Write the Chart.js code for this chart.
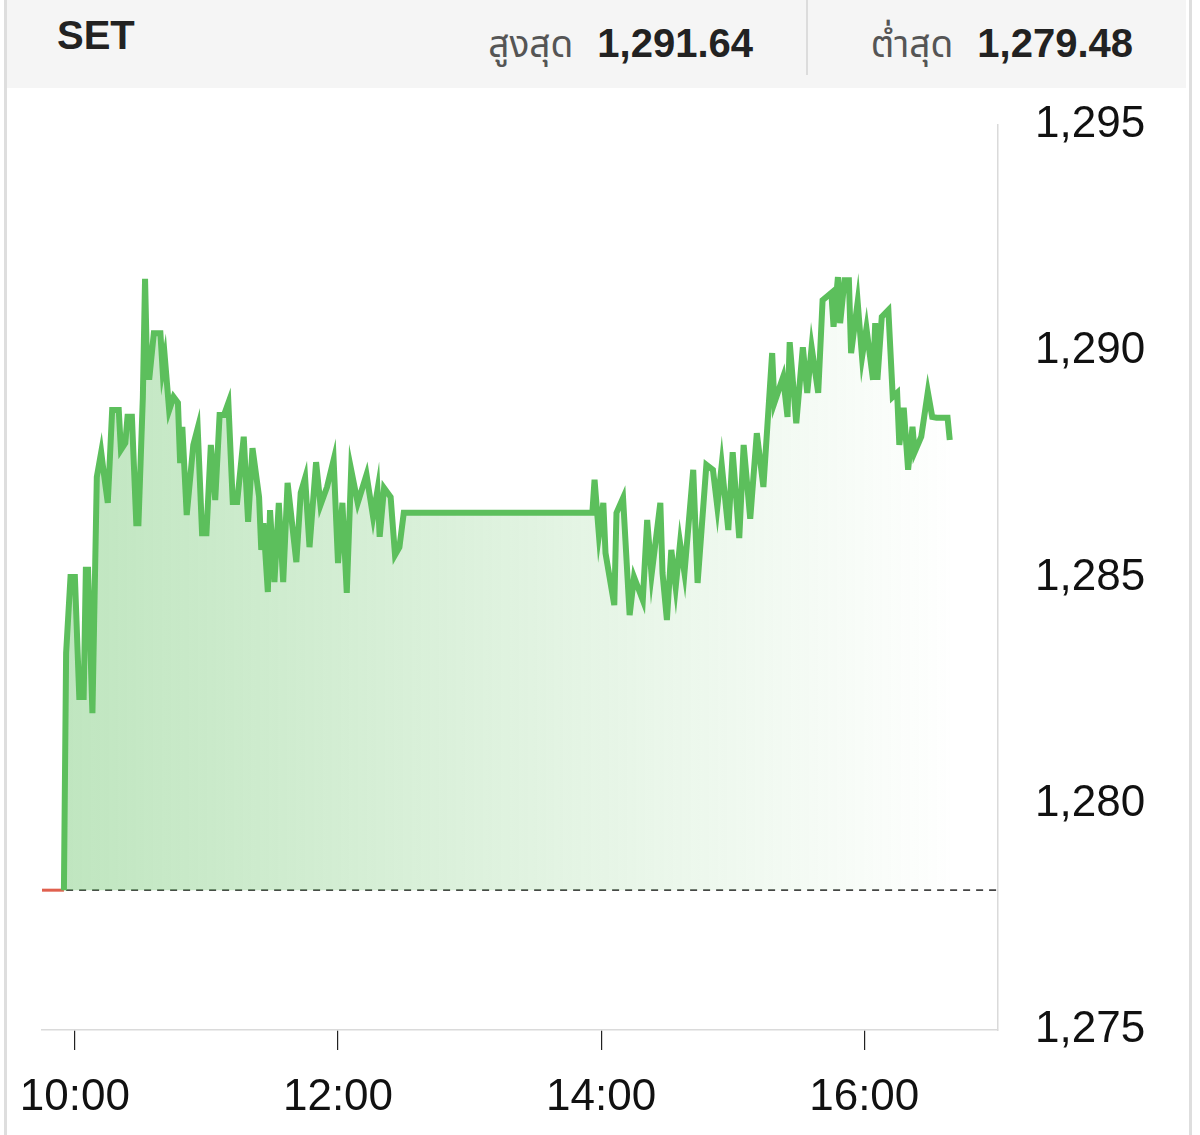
<!DOCTYPE html>
<html>
<head>
<meta charset="utf-8">
<script src="https://cdn.jsdelivr.net/npm/chart.js@4"></script>
<style>
    body { margin: 0; background: #fff; }
    #marco { position: relative; width: 1200px; height: 1135px; overflow: hidden; font-family: "Liberation Sans", Arial, "Noto Sans Thai", sans-serif; }
    #borde { position: absolute; left: 4px; top: 0; width: 1182px; height: 1135px; border-left: 3px solid #dedede; border-right: 3px solid #dedede; }
    #cabecera { position: absolute; left: 7px; top: 0; width: 1179px; height: 88px; background: #f5f5f5; }
    #divisor { position: absolute; left: 806px; top: 0; width: 2px; height: 75px; background: #dcdcdc; }
    .txt { position: absolute; white-space: nowrap; color: #222; }
    #simbolo { left: 57px; top: 13px; font-size: 40px; font-weight: bold; }
    .grupo { position: absolute; top: 18px; white-space: nowrap; }
    .etq { font-size: 37px; color: #555; margin-right: 24px; }
    .num { font-size: 40px; font-weight: bold; color: #222; }
    #canvasWrap { position: absolute; left: 0; top: 88px; width: 1200px; height: 1047px; }
</style>
</head>
<body>
<div id="marco">
    <div id="cabecera"></div>
    <div id="divisor"></div>
    <div class="txt" id="simbolo">SET</div>
    <div class="grupo" style="right: 447px;"><span class="etq">สูงสุด</span><span class="num">1,291.64</span></div>
    <div class="grupo" style="right: 67px;"><span class="etq">ต่ำสุด</span><span class="num">1,279.48</span></div>
    <div id="canvasWrap"><canvas id="chartSet" width="1200" height="1047"></canvas></div>
    <div id="borde"></div>
</div>

<script>
// precio de cierre anterior (linea punteada)
const cierreAnterior = 1278.09

// pre-apertura (linea roja)
const preTiempos = ["09:45", "09:55"]
const preValores = [1278.09, 1278.09]

// SET intradia
const tiempos = [
    "09:55", "09:56", "09:58", "10:00", "10:02", "10:04", "10:05", "10:06", "10:08", "10:10",
    "10:12", "10:13", "10:15", "10:17", "10:20", "10:21", "10:23", "10:24", "10:26", "10:28",
    "10:29", "10:31", "10:32", "10:33", "10:34", "10:36", "10:39", "10:40", "10:41", "10:43",
    "10:45", "10:47", "10:48", "10:49", "10:51", "10:54", "10:56", "10:58", "11:00", "11:02",
    "11:04", "11:06", "11:08", "11:10", "11:12", "11:14", "11:17", "11:19", "11:21", "11:24",
    "11:25", "11:26", "11:28", "11:29", "11:31", "11:33", "11:35", "11:37", "11:41", "11:43",
    "11:45", "11:47", "11:50", "11:52", "11:55", "11:58", "12:00", "12:02", "12:04", "12:06",
    "12:09", "12:13", "12:16", "12:18", "12:19", "12:21", "12:24", "12:26", "12:28", "12:30",
    "13:56", "13:57", "13:59", "14:01", "14:02", "14:06", "14:07", "14:10", "14:13", "14:15",
    "14:19", "14:21", "14:23", "14:27", "14:28", "14:30", "14:32", "14:34", "14:36", "14:38",
    "14:42", "14:44", "14:48", "14:51", "14:53", "14:55", "14:58", "15:00", "15:03", "15:05",
    "15:08", "15:11", "15:14", "15:18", "15:19", "15:23", "15:25", "15:26", "15:29", "15:32",
    "15:34", "15:36", "15:39", "15:41", "15:45", "15:46", "15:48", "15:49", "15:51", "15:53",
    "15:54", "15:57", "15:59", "16:01", "16:04", "16:05", "16:06", "16:08", "16:11", "16:13",
    "16:15", "16:16", "16:18", "16:20", "16:22", "16:23", "16:26", "16:29", "16:31", "16:33",
    "16:38", "16:39"
]
const valores = [
    1278.09, 1283.33, 1285.01, 1285.01, 1282.36, 1282.36, 1285.17, 1285.17, 1282.00, 1287.22,
    1287.77, 1287.38, 1286.65, 1288.70, 1288.70, 1287.82, 1287.97, 1288.55, 1288.55, 1286.20,
    1286.20, 1288.99, 1291.60, 1289.43, 1289.43, 1290.40, 1290.40, 1289.59, 1289.87, 1288.70,
    1288.99, 1288.86, 1287.53, 1288.33, 1286.38, 1287.93, 1288.30, 1285.98, 1285.98, 1287.93,
    1286.71, 1288.59, 1288.59, 1288.86, 1286.67, 1286.67, 1288.11, 1286.23, 1287.86, 1286.78,
    1285.61, 1286.20, 1284.68, 1286.49, 1284.90, 1286.65, 1284.90, 1287.09, 1285.34, 1286.87,
    1287.20, 1285.67, 1287.55, 1286.60, 1287.00, 1287.60, 1285.32, 1286.65, 1284.66, 1287.38,
    1286.65, 1287.27, 1286.34, 1286.93, 1285.90, 1286.98, 1286.78, 1285.50, 1285.67, 1286.43,
    1286.43, 1287.16, 1285.94, 1286.65, 1285.54, 1284.39, 1286.43, 1286.76, 1284.17, 1285.01,
    1284.50, 1286.27, 1285.06, 1286.65, 1285.10, 1284.06, 1285.61, 1284.79, 1285.76, 1285.10,
    1287.38, 1284.88, 1287.49, 1287.38, 1286.56, 1287.49, 1286.05, 1287.77, 1285.87, 1287.93,
    1286.30, 1288.19, 1287.00, 1289.96, 1288.86, 1289.43, 1288.55, 1290.20, 1288.41, 1290.09,
    1289.08, 1290.09, 1289.08, 1291.13, 1291.29, 1290.54, 1291.64, 1290.62, 1291.57, 1291.57,
    1289.96, 1291.09, 1289.87, 1290.51, 1289.37, 1290.62, 1289.37, 1290.76, 1290.91, 1288.99,
    1289.08, 1287.93, 1288.75, 1287.38, 1288.33, 1287.77, 1288.11, 1289.10, 1288.55, 1288.53,
    1288.53, 1288.04
]

// ejes
const ejeXInicio = "09:45"
const ejeXFin = "17:01"
const ticksX = ["10:00", "12:00", "14:00", "16:00"]
const ticksY = [1275, 1280, 1285, 1290, 1295]

function aMinutos(hhmm) {
    const partes = hhmm.split(":")
    return parseInt(partes[0]) * 60 + parseInt(partes[1])
}

function aHora(min) {
    const h = Math.floor(min / 60)
    const m = min % 60
    return h + ":" + (m < 10 ? "0" + m : m)
}

function puntos(ts, vs) {
    return ts.map((t, i) => { return { x: aMinutos(t), y: vs[i] } })
}

function relleno(context) {
    const chart = context.chart
    const area = chart.chartArea
    if (!area) return "rgba(92,190,92,0.3)"
    const g = chart.ctx.createLinearGradient(area.left, 0, area.right, 0)
    g.addColorStop(0, "rgba(92,190,92,0.4)")
    g.addColorStop(0.55, "rgba(92,190,92,0.17)")
    g.addColorStop(0.96, "rgba(92,190,92,0.0)")
    return g
}

function GraficaSet() {

    const data = {
        datasets: [
            {
                label: "SET",
                data: puntos(tiempos, valores),
                borderColor: "#5cbf5c",
                borderWidth: 6,
                borderJoinStyle: "miter",
                pointRadius: 0,
                tension: 0,
                fill: { value: cierreAnterior },
                backgroundColor: relleno,
                order: 1
            },
            {
                label: "pre",
                data: puntos(preTiempos, preValores),
                borderColor: "#e0604e",
                borderWidth: 3,
                pointRadius: 0,
                fill: false,
                order: 2
            },
            {
                label: "cierre",
                data: [{ x: aMinutos("09:56"), y: cierreAnterior }, { x: aMinutos(ejeXFin), y: cierreAnterior }],
                borderColor: "#444",
                borderWidth: 1.8,
                borderDash: [7, 6],
                pointRadius: 0,
                fill: false,
                order: 3
            }
        ]
    }

    const config = {
        type: "line",
        data: data,
        options: {
            responsive: false,
            animation: false,
            events: [],
            layout: { padding: { left: 42, top: 37, right: 0, bottom: 0 } },
            plugins: { legend: { display: false }, tooltip: { enabled: false } },
            scales: {
                x: {
                    type: "linear",
                    min: aMinutos(ejeXInicio),
                    max: aMinutos(ejeXFin),
                    afterBuildTicks: (axis) => { axis.ticks = ticksX.map((t) => { return { value: aMinutos(t) } }) },
                    afterFit: (axis) => {
                        axis.height = 105
                        axis.paddingLeft = 0
                        axis.paddingRight = 0
                    },
                    grid: { drawOnChartArea: false, drawTicks: true, tickLength: 20, color: "#222", lineWidth: 1.2 },
                    border: { display: true, color: "#dadada", width: 1.5 },
                    ticks: {
                        padding: 21,
                        maxRotation: 0,
                        autoSkip: false,
                        color: "#111",
                        font: { family: "'Liberation Sans', Arial, sans-serif", size: 44 },
                        callback: (v) => aHora(v)
                    }
                },
                y: {
                    position: "right",
                    min: ticksY[0],
                    max: ticksY[ticksY.length - 1],
                    afterBuildTicks: (axis) => { axis.ticks = ticksY.map((v) => { return { value: v } }) },
                    afterFit: (axis) => {
                        axis.width = 202
                        axis.paddingTop = 0
                        axis.paddingBottom = 0
                    },
                    grid: { display: false },
                    border: { display: true, color: "#dadada", width: 1.5 },
                    ticks: {
                        padding: 29,
                        color: "#111",
                        font: { family: "'Liberation Sans', Arial, sans-serif", size: 44 },
                        callback: (v) => v.toLocaleString("en-US")
                    }
                }
            }
        }
    }

    const canvas = document.getElementById("chartSet")
    const grafico = new Chart(canvas, config)
}

GraficaSet()
</script>
</body>
</html>
